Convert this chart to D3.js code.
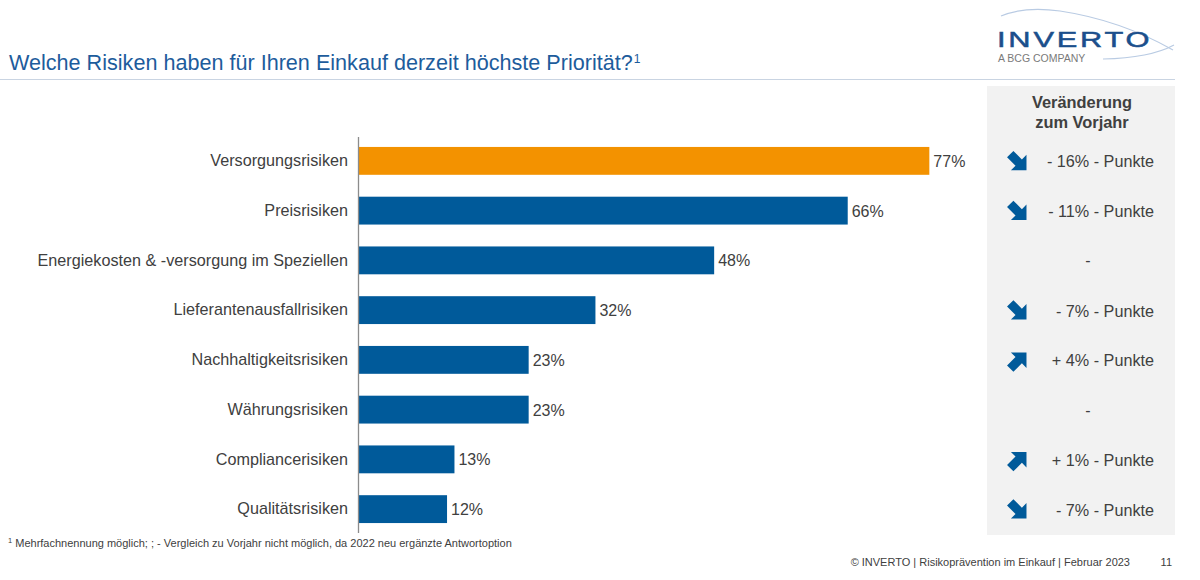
<!DOCTYPE html>
<html>
<head>
<meta charset="utf-8">
<script src="https://cdn.jsdelivr.net/npm/d3@7"></script>
<style>
  body { margin: 0; background: #fff; }
  svg { font-family: Arial, "Liberation Sans", sans-serif; display: block; }
</style>
</head>
<body>
<div id="chart"></div>
<script>
// Risk categories, share of mentions (%) and change vs previous year (points, null = new)
const categories = [
    'Versorgungsrisiken',
    'Preisrisiken',
    'Energiekosten & -versorgung im Speziellen',
    'Lieferantenausfallrisiken',
    'Nachhaltigkeitsrisiken',
    'Währungsrisiken',
    'Compliancerisiken',
    'Qualitätsrisiken'
];
const values = [77, 66, 48, 32, 23, 23, 13, 12];
const changes = [-16, -11, null, -7, 4, null, 1, -7];

let width = 1200,
    height = 580;

let svg = d3.select('#chart')
    .append('svg')
    .attr('width', width)
    .attr('height', height);

// Title + rule
let title = svg.append('text')
    .attr('x', 9)
    .attr('y', 70)
    .attr('fill', '#1d5c9c')
    .style('font-size', '21.6px');
title.append('tspan').text('Welche Risiken haben für Ihren Einkauf derzeit höchste Priorität?');
title.append('tspan').attr('dx', 1).attr('dy', -7).style('font-size', '12px').text('1');

svg.append('line')
    .attr('x1', 0).attr('x2', 1175)
    .attr('y1', 79.5).attr('y2', 79.5)
    .attr('stroke', '#c9d4e2')
    .attr('stroke-width', 1.2);

// Logo
let logo = svg.append('g');
logo.append('path')
    .attr('d', 'M 1001 16 Q 1025 6 1060 11 Q 1120 20 1173 50')
    .attr('fill', 'none').attr('stroke', '#b9cbe3').attr('stroke-width', 1.2);
logo.append('path')
    .attr('d', 'M 1103 59 Q 1150 58 1174 45')
    .attr('fill', 'none').attr('stroke', '#b9cbe3').attr('stroke-width', 1.2);
logo.append('text')
    .attr('transform', 'translate(997,47) scale(1.4,1)')
    .attr('fill', '#1b4f8c')
    .attr('stroke', '#1b4f8c')
    .attr('stroke-width', 0.5)
    .style('font-size', '22px')
    .style('letter-spacing', '2px')
    .text('INVERTO');
logo.append('text')
    .attr('x', 998).attr('y', 62)
    .attr('fill', '#7a7a7a')
    .style('font-size', '10.5px')
    .text('A BCG COMPANY');

// Grey comparison panel
svg.append('rect')
    .attr('x', 987).attr('y', 86)
    .attr('width', 188).attr('height', 449)
    .attr('fill', '#f2f2f2');

svg.append('text')
    .attr('x', 1082).attr('y', 108)
    .attr('text-anchor', 'middle')
    .attr('fill', '#404040')
    .style('font-size', '16.4px').style('font-weight', 'bold')
    .text('Veränderung');
svg.append('text')
    .attr('x', 1082).attr('y', 128)
    .attr('text-anchor', 'middle')
    .attr('fill', '#404040')
    .style('font-size', '16.4px').style('font-weight', 'bold')
    .text('zum Vorjahr');

// Scales
let x0 = 358;
let x = d3.scaleLinear().domain([0, 100]).range([x0, x0 + 742]);
let y = d3.scaleBand()
    .domain(categories)
    .range([136, 534])
    .paddingInner(0.44)
    .paddingOuter(0.22);

let rows = categories.map(function (c, i) {
    return { cat: c, value: values[i], change: changes[i] };
});

// Bars
svg.selectAll('.bar')
    .data(rows)
    .enter().append('rect')
    .attr('class', 'bar')
    .attr('x', x(0))
    .attr('y', function (d) { return y(d.cat); })
    .attr('width', function (d) { return x(d.value) - x(0); })
    .attr('height', y.bandwidth())
    .attr('fill', function (d, i) { return i === 0 ? '#f39200' : '#005a9a'; });

// Value labels
svg.selectAll('.val')
    .data(rows)
    .enter().append('text')
    .attr('x', function (d) { return x(d.value) + 4; })
    .attr('y', function (d) { return y(d.cat) + y.bandwidth() / 2 + 6; })
    .attr('fill', '#404040')
    .style('font-size', '16px')
    .text(function (d) { return d.value + '%'; });

// Category axis
let axis = svg.append('g')
    .attr('transform', 'translate(' + x0 + ',0)')
    .call(d3.axisLeft(y).tickSize(0).tickPadding(10));
axis.select('.domain')
    .attr('d', 'M0.5,137V533')
    .attr('stroke', '#8c8c8c')
    .attr('stroke-width', 1.3);
axis.selectAll('text')
    .attr('fill', '#404040')
    .style('font-size', '16.2px')
    .style('font-family', 'Arial, "Liberation Sans", sans-serif');

// Change column
let arrowPath = 'M -11 -4.5 L 1 -4.5 L 1 -11 L 12 0 L 1 11 L 1 4.5 L -11 4.5 Z';
rows.forEach(function (d) {
    let cy = y(d.cat) + y.bandwidth() / 2 + 1;
    if (d.change === null) {
        svg.append('text')
            .attr('x', 1088).attr('y', cy + 5)
            .attr('text-anchor', 'middle')
            .attr('fill', '#404040')
            .style('font-size', '16px')
            .text('-');
        return;
    }
    svg.append('path')
        .attr('d', arrowPath)
        .attr('fill', '#005a9a')
        .attr('transform', 'translate(1018,' + cy + ') rotate(' + (d.change < 0 ? 45 : -45) + ')');
    svg.append('text')
        .attr('x', 1154).attr('y', cy + 5.5)
        .attr('text-anchor', 'end')
        .attr('fill', '#404040')
        .style('font-size', '16.2px')
        .text((d.change < 0 ? '- ' : '+ ') + Math.abs(d.change) + '% - Punkte');
});

// Footnote
let foot = svg.append('text')
    .attr('x', 8).attr('y', 547)
    .attr('fill', '#404040')
    .style('font-size', '11px');
foot.append('tspan').attr('dy', -4).style('font-size', '7.5px').text('1');
foot.append('tspan').attr('dy', 4).text(' Mehrfachnennung möglich; ; - Vergleich zu Vorjahr nicht möglich, da 2022 neu ergänzte Antwortoption');

svg.append('text')
    .attr('x', 1130).attr('y', 566)
    .attr('text-anchor', 'end')
    .attr('fill', '#404040')
    .style('font-size', '11px')
    .text('© INVERTO | Risikoprävention im Einkauf | Februar 2023');
svg.append('text')
    .attr('x', 1172).attr('y', 566)
    .attr('text-anchor', 'end')
    .attr('fill', '#404040')
    .style('font-size', '11px')
    .text('11');
</script>
</body>
</html>
